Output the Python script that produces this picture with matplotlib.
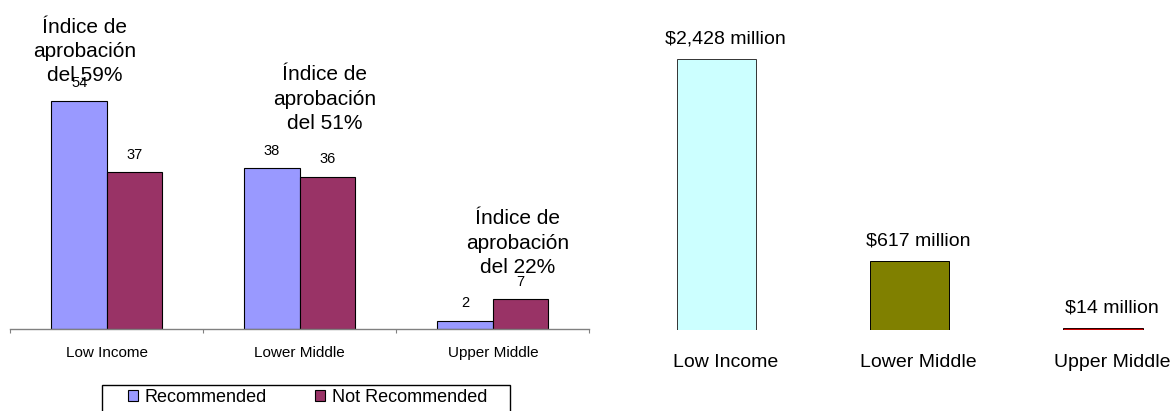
#!/usr/bin/env python3

"""
Projects recommended / not recommended by income group, and the money
approved for each group.

* out.png
"""

import matplotlib
matplotlib.use("Agg")
import matplotlib.pyplot as plt
import matplotlib.transforms as mtransforms
from matplotlib.patches import Rectangle
import numpy as np

categories = ["Low Income", "Lower Middle", "Upper Middle"]
recommended = [54, 38, 2]
not_recommended = [37, 36, 7]
approval_rate = [59, 51, 22]
funding_millions = [2428, 617, 14]

plt.rcParams['font.family'] = ['Liberation Sans', 'DejaVu Sans']

DPI = 100
FIG_W, FIG_H = 1173, 411


def px_box(left, top, right, bottom):
    """pixel box (origin top-left) -> figure fraction rect"""
    return [left / FIG_W, 1 - bottom / FIG_H, (right - left) / FIG_W, (bottom - top) / FIG_H]


def plot_projects(fig):
    px_per_unit = 4.23
    ymax = 70
    ax = fig.add_axes(px_box(10.4, 329 - ymax * px_per_unit, 589.3, 329))
    x = np.arange(len(categories))
    width = 0.288

    bars_rec = ax.bar(x - width / 2, recommended, width, color='#9999ff', edgecolor='black',
                      linewidth=0.8, label='Recommended')
    bars_not = ax.bar(x + width / 2, not_recommended, width, color='#993366', edgecolor='black',
                      linewidth=0.8, label='Not Recommended')
    for bars in (bars_rec, bars_not):
        ax.bar_label(bars, padding=7.5, fontsize=10.5)

    ax.set_xlim(-0.5, len(categories) - 0.5)
    ax.set_ylim(0, ymax)
    for side in ('top', 'left', 'right'):
        ax.spines[side].set_visible(False)
    ax.spines['bottom'].set_color('#808080')
    ax.spines['bottom'].set_linewidth(1.0)

    # group boundaries as major ticks, names as minor ticks
    ax.set_xticks(np.arange(len(categories) + 1) - 0.5)
    ax.set_xticklabels([])
    ax.tick_params(axis='x', which='major', length=3, color='#808080', direction='out')
    ax.set_xticks(x, minor=True)
    ax.set_xticklabels(categories, minor=True, fontsize=11)
    ax.tick_params(axis='x', which='minor', length=0, pad=12)
    ax.set_yticks([])

    # approval rate notes
    note_pos = [(-0.116, 65.6), (1.13, 54.3), (2.13, 20.3)]
    for (nx, ny), rate in zip(note_pos, approval_rate):
        ax.text(nx, ny, f"Índice de\naprobación\ndel {rate}%", ha='center', va='center',
                fontsize=15, linespacing=1.36, clip_on=False)

    # legend with its own square frame
    fig.legend(handles=[bars_rec, bars_not], loc='center left', ncol=2, frameon=False,
               bbox_to_anchor=(127.7 / FIG_W, 1 - 397.5 / FIG_H), borderpad=0, borderaxespad=0,
               fontsize=13, handlelength=0.55, handleheight=0.55, handletextpad=0.4,
               columnspacing=2.65)
    fig.patches.append(Rectangle((102.3 / FIG_W, -0.02), 407.5 / FIG_W, (411 - 384.7) / FIG_H + 0.02,
                                 transform=fig.transFigure, fill=False, edgecolor='black',
                                 linewidth=1.0))


def plot_funding(fig):
    px_per_unit = 271 / 2428
    ymax = 2800
    ax = fig.add_axes(px_box(619.6, 330 - ymax * px_per_unit, 619.6 + 580, 330))
    x = np.arange(len(categories))

    ax.bar(x, funding_millions, 0.41, color=['#ccffff', '#808000', '#cc0000'],
           edgecolor=['#333333', 'black', '#200000'], linewidth=0.7)
    for i, v in enumerate(funding_millions):
        ax.annotate(f"${v:,} million", (i, v), xytext=(6.5, 14.5), textcoords='offset points',
                    ha='center', va='center', fontsize=14)

    ax.set_xlim(-0.5, len(categories) - 0.5)
    ax.set_ylim(0, ymax)
    for spine in ax.spines.values():
        spine.set_visible(False)
    ax.set_yticks([])
    ax.set_xticks(x, categories, fontsize=14)
    ax.tick_params(axis='x', length=0, pad=17)
    shift = mtransforms.ScaledTranslation(9 / DPI, 0, fig.dpi_scale_trans)
    for label in ax.get_xticklabels():
        label.set_transform(label.get_transform() + shift)


def main():
    fig = plt.figure(figsize=(FIG_W / DPI, FIG_H / DPI), dpi=DPI)
    plot_projects(fig)
    plot_funding(fig)
    fig.savefig("out.png", dpi=DPI)
    plt.close(fig)


if __name__ == "__main__":
    main()
